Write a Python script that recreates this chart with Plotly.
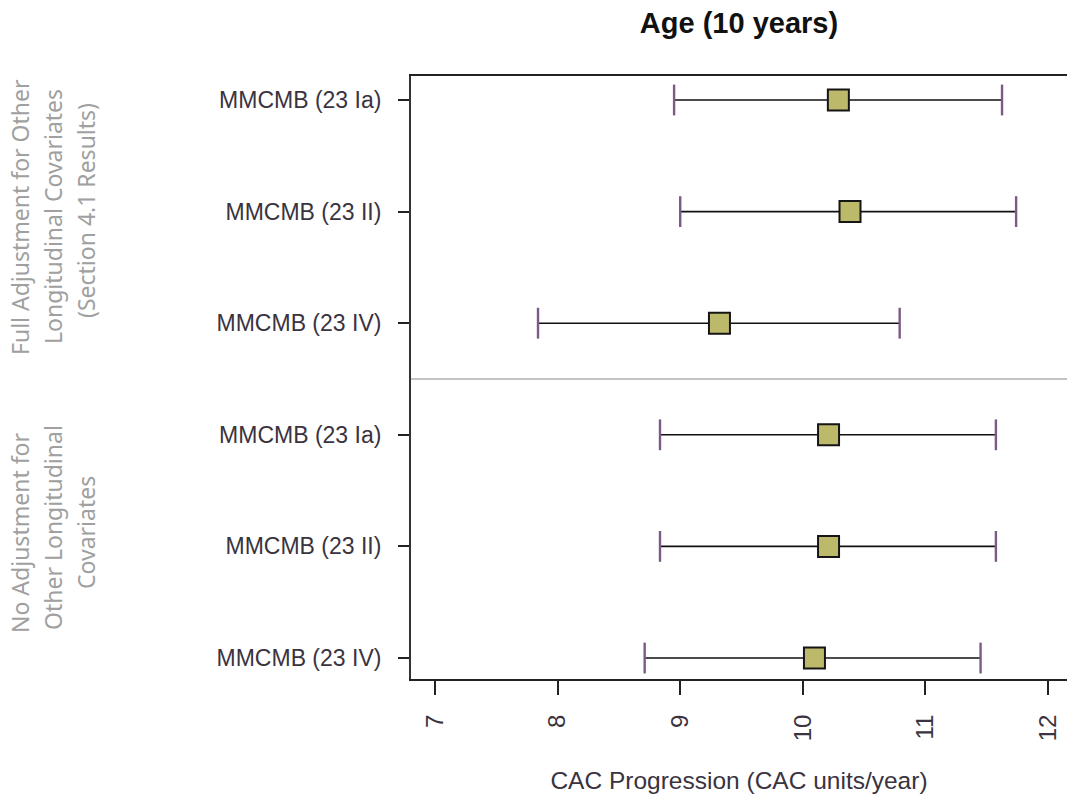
import plotly.graph_objects as go

# Model labels, top to bottom
models = ["MMCMB (23 Ia)", "MMCMB (23 II)", "MMCMB (23 IV)",
          "MMCMB (23 Ia)", "MMCMB (23 II)", "MMCMB (23 IV)"]
rows = [1, 2, 3, 4, 5, 6]

# Point estimates and confidence limits (CAC units/year)
estimate = [10.29, 10.385, 9.32, 10.21, 10.21, 10.095]
ci_low = [8.95, 9.00, 7.84, 8.835, 8.835, 8.71]
ci_high = [11.625, 11.74, 10.79, 11.575, 11.575, 11.45]

x_ticks = [7, 8, 9, 10, 11, 12]

group_top = ["Full Adjustment for Other", "Longitudinal Covariates", "(Section 4.1 Results)"]
group_bottom = ["No Adjustment for", "Other Longitudinal", "Covariates"]

W, H = 1067, 797
ML, MR, MT, MB = 411, 0, 76, 118
PW, PH = W - ML - MR, H - MT - MB

ARIAL = "Liberation Sans, Arial, sans-serif"
TEXT_C = "#3a3340"

fig = go.Figure()

# Confidence interval stems
stem_x, stem_y = [], []
for lo, hi, r in zip(ci_low, ci_high, rows):
    stem_x += [lo, hi, None]
    stem_y += [r, r, None]
fig.add_trace(go.Scatter(x=stem_x, y=stem_y, mode="lines",
                         line=dict(color="#111111", width=1.6),
                         hoverinfo="skip", showlegend=False))

# Interval end caps
fig.add_trace(go.Scatter(x=ci_low + ci_high, y=rows + rows, mode="markers",
                         marker=dict(symbol="line-ns", size=22,
                                     line=dict(color="#7b5b86", width=2.4)),
                         hoverinfo="skip", showlegend=False))

# Point estimates
fig.add_trace(go.Scatter(x=estimate, y=rows, mode="markers",
                         marker=dict(symbol="square", size=21, color="#bdb96a",
                                     line=dict(color="#151515", width=2)),
                         showlegend=False))

# Divider between the two adjustment groups
fig.add_shape(type="line", xref="paper", x0=0, x1=1, yref="y", y0=3.5, y1=3.5,
              line=dict(color="#c4c4c4", width=2), layer="below")


def px_x(px):
    return (px - ML) / PW


def px_y(py):
    return (H - MB - py) / PH


group_font = dict(family="Noto Sans, Open Sans, sans-serif", size=23, color="#a0a0a0")
for text, xp, yp in zip(group_top, [20, 53, 86], [217, 217, 211]):
    fig.add_annotation(text=text, xref="paper", yref="paper", x=px_x(xp), y=px_y(yp),
                       textangle=-90, showarrow=False, font=group_font,
                       xanchor="center", yanchor="middle")
for text, xp, yp in zip(group_bottom, [20, 53, 86], [533, 528, 533]):
    fig.add_annotation(text=text, xref="paper", yref="paper", x=px_x(xp), y=px_y(yp),
                       textangle=-90, showarrow=False, font=group_font,
                       xanchor="center", yanchor="middle")

fig.update_layout(
    width=W, height=H,
    margin=dict(l=ML, r=MR, t=MT, b=MB, pad=0),
    paper_bgcolor="white", plot_bgcolor="white",
    title=dict(text="<b>Age (10 years)</b>", xref="paper", x=0.5, xanchor="center",
               yref="container", y=1 - 23 / H, yanchor="middle",
               font=dict(family=ARIAL, size=29, color="#111111")),
    xaxis=dict(range=[6.804, 12.155], tickvals=x_ticks, ticktext=[str(v) for v in x_ticks],
               tickangle=-90, ticks="outside", ticklen=14, tickwidth=2, tickcolor="#222222",
               showline=True, linecolor="#222222", linewidth=2, mirror=True,
               showgrid=False, zeroline=False, ticklabelstandoff=10,
               tickfont=dict(family=ARIAL, size=24, color=TEXT_C),
               title=dict(text="CAC Progression (CAC units/year)", standoff=32,
                          font=dict(family=ARIAL, size=24.5, color=TEXT_C))),
    yaxis=dict(range=[6.188, 0.785], tickvals=rows, ticktext=models,
               ticks="outside", ticklen=11, tickwidth=1.5, tickcolor="#222222",
               showline=True, linecolor="#333333", linewidth=2,
               showgrid=False, zeroline=False, ticklabelstandoff=12,
               tickfont=dict(family=ARIAL, size=23, color=TEXT_C)),
)

fig.write_html("out.html")
